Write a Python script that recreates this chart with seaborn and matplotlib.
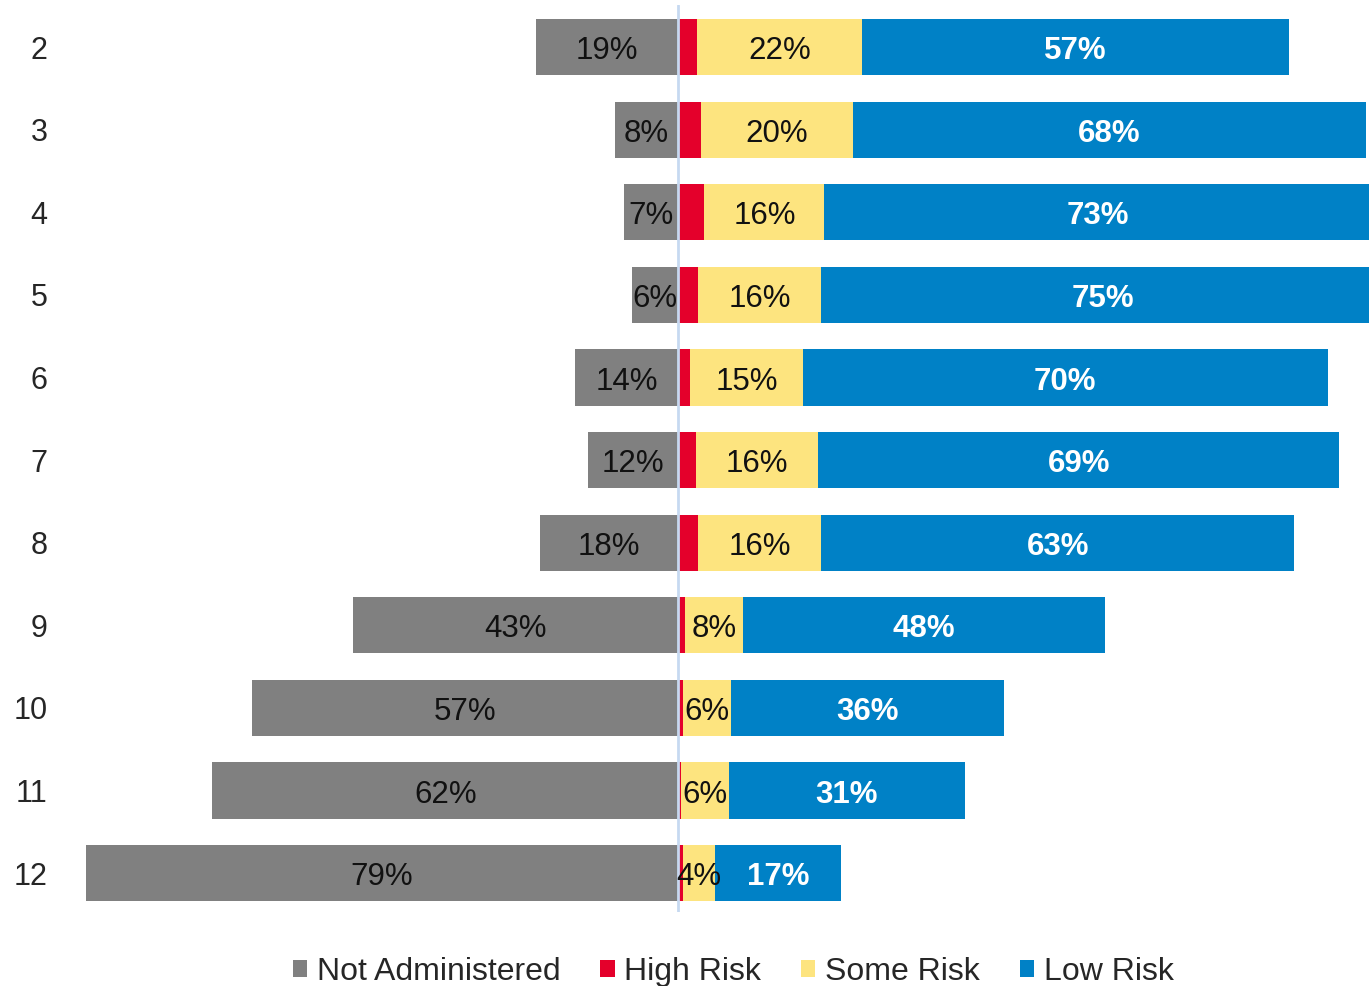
import numpy as np
import pandas as pd
import matplotlib.pyplot as plt
import seaborn as sns
from matplotlib.patches import Patch

# percentages
grades = ['2', '3', '4', '5', '6', '7', '8', '9', '10', '11', '12']
not_administered = [19, 8.4, 7.2, 6.2, 13.7, 12, 18.4, 43.4, 56.8, 62.1, 79]
high_risk = [2.5, 3, 3.5, 2.7, 1.6, 2.4, 2.7, 0.9, 0.6, 0.4, 0.6]
some_risk = [22, 20.3, 16, 16.4, 15, 16.3, 16.4, 7.7, 6.4, 6.4, 4.3]
low_risk = [57, 68.4, 73, 75, 70, 69.4, 63, 48.3, 36.4, 31.4, 16.8]

series_names = ['Not Administered', 'High Risk', 'Some Risk', 'Low Risk']
colores = ['#808080', '#E4002B', '#FDE47F', '#0081C6']

df = pd.DataFrame({
    'grade': grades,
    'na': not_administered,
    'high': high_risk,
    'some': some_risk,
    'low': low_risk,
})
df['na_neg'] = -df['na']
df['cum_some'] = df['high'] + df['some']
df['cum_low'] = df['cum_some'] + df['low']

sns.set_style('white')
plt.rcParams['font.family'] = ['Liberation Sans', 'DejaVu Sans']

fig = plt.figure(figsize=(13.69, 9.86), dpi=100)
ax = fig.add_axes([60 / 1369, 74 / 986, 1309 / 1369, 907 / 986])

# barras apiladas: se dibuja primero el total y encima los parciales
bar_kw = dict(y='grade', order=grades, orient='h', width=0.68, saturation=1, ax=ax, linewidth=0)
sns.barplot(data=df, x='na_neg', color=colores[0], **bar_kw)
sns.barplot(data=df, x='cum_low', color=colores[3], **bar_kw)
sns.barplot(data=df, x='cum_some', color=colores[2], **bar_kw)
sns.barplot(data=df, x='high', color=colores[1], **bar_kw)

ax.axvline(0, color='#C6D9F1', lw=2, zorder=5)

# etiquetas de porcentaje (un poco por debajo del centro, como en el original)
dy = 0.05
for i, row in df.iterrows():
    ax.text(-row['na'] / 2, i + dy, f"{row['na']:.0f}%", ha='center', va='center',
            fontsize=22.5, color='#111111', zorder=6)
    ax.text(row['high'] + row['some'] / 2, i + dy, f"{row['some']:.0f}%", ha='center', va='center',
            fontsize=22.5, color='#111111', zorder=6)
    ax.text(row['cum_some'] + row['low'] / 2, i + dy, f"{row['low']:.0f}%", ha='center', va='center',
            fontsize=22.5, color='white', fontweight='bold', zorder=6)

ax.set_xlim(-82.4, 92.1)
ax.set_ylim(10.47, -0.51)
ax.set_xlabel('')
ax.set_ylabel('')
ax.set_xticks([])
ax.tick_params(axis='y', length=0, pad=9, labelsize=22)
for s in ax.spines.values():
    s.set_visible(False)

handles = [Patch(facecolor=c, edgecolor='none') for c in colores]
fig.legend(handles, series_names, loc='center', bbox_to_anchor=(733 / 1369, 1 - 972 / 986),
           ncol=4, frameon=False, fontsize=23, handlelength=0.45, handleheight=0.45,
           handletextpad=0.3, columnspacing=1.25, borderaxespad=0, borderpad=0)

plt.savefig('out.png', dpi=100)
plt.close()
